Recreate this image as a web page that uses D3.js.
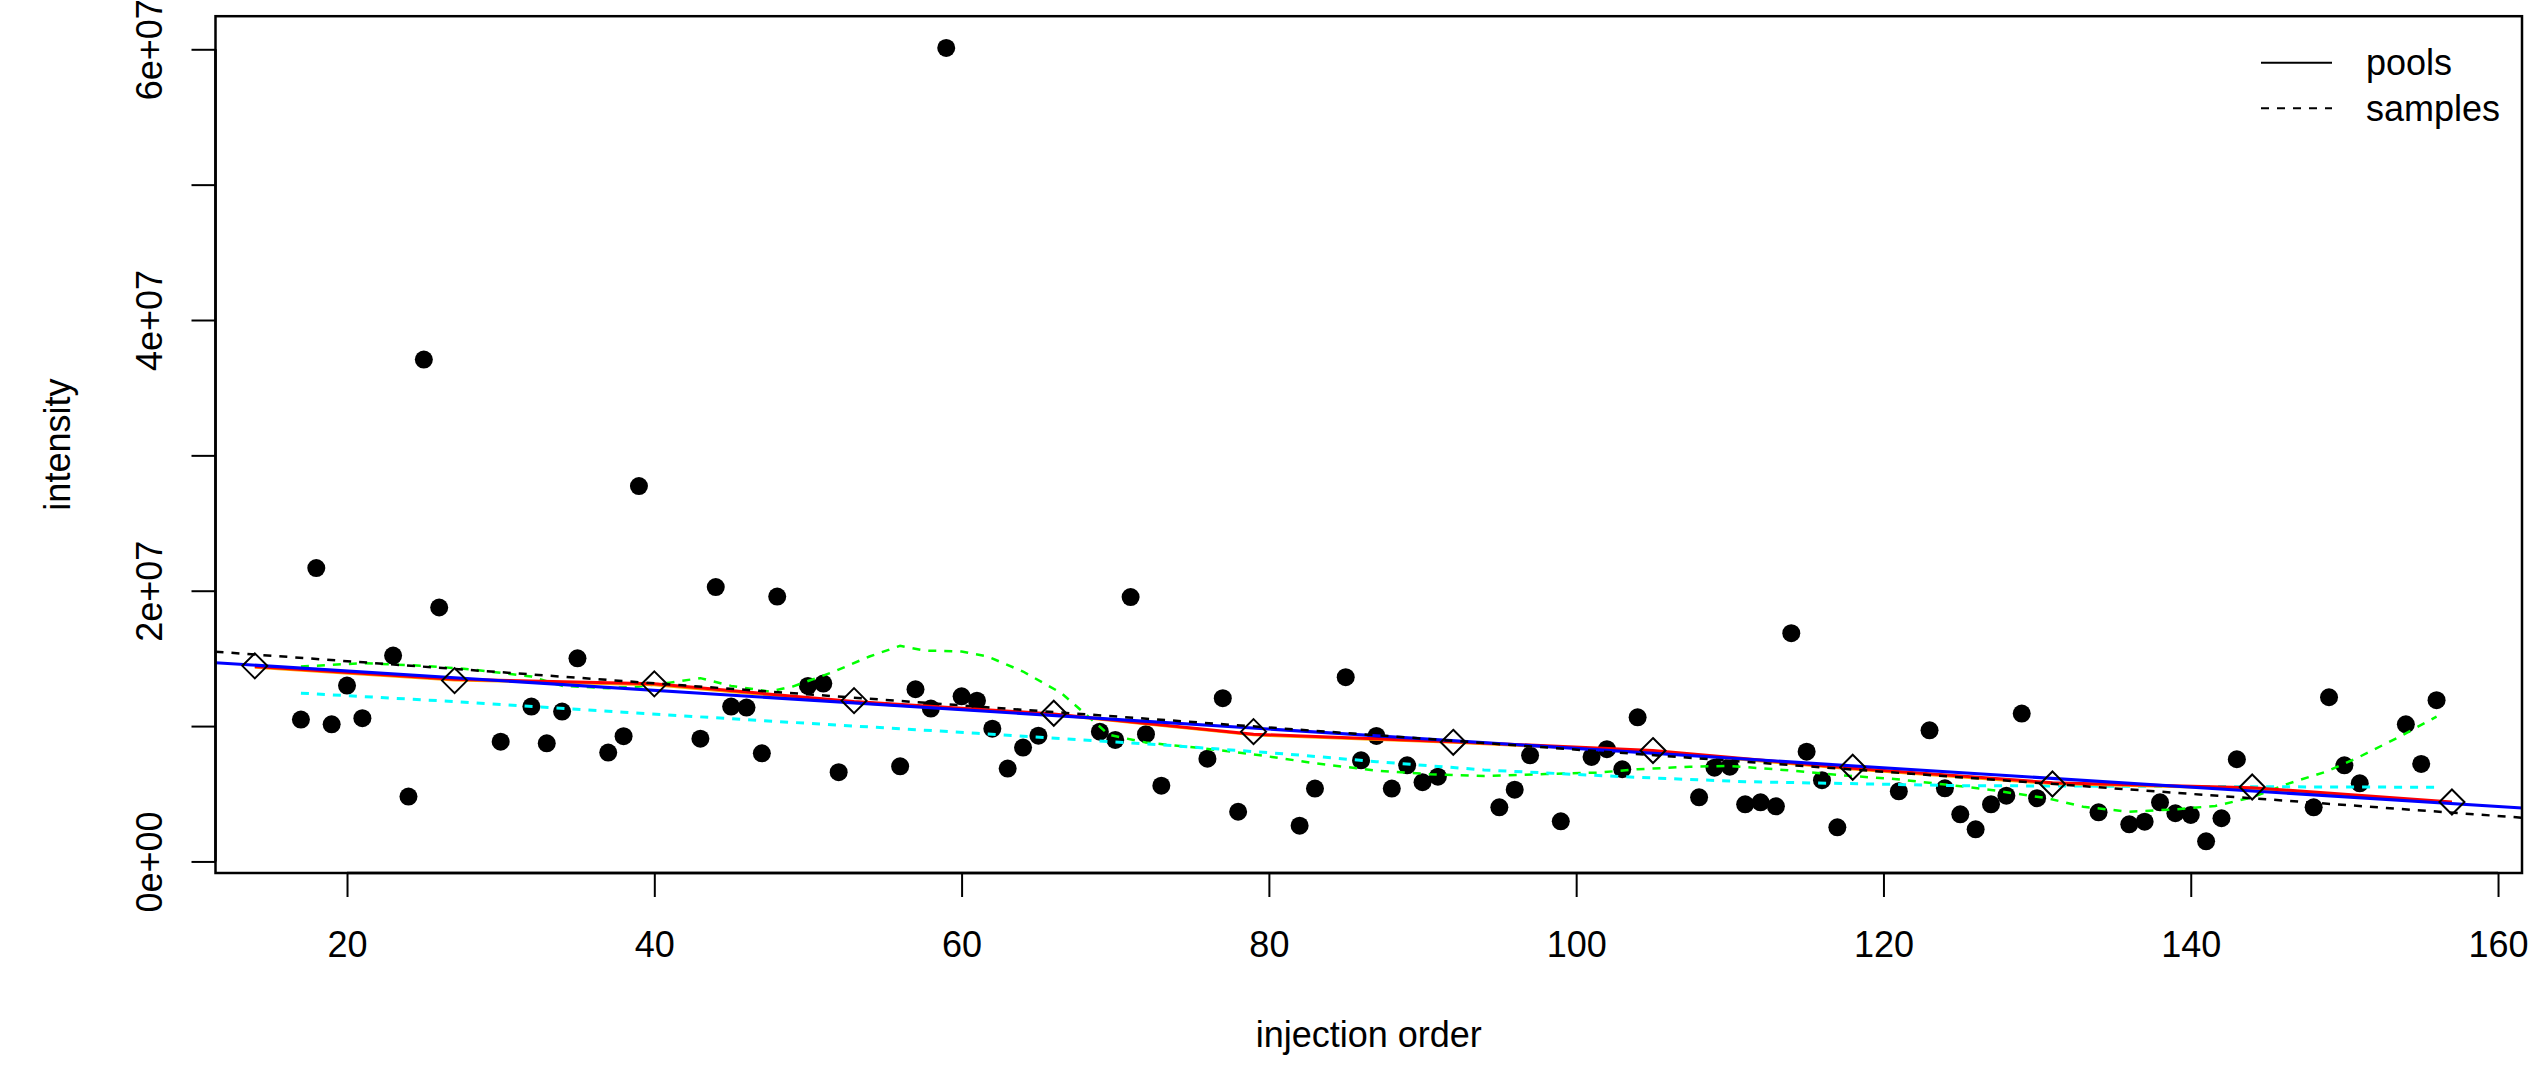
<!DOCTYPE html>
<html>
<head>
<meta charset="utf-8">
<script src="https://cdn.jsdelivr.net/npm/d3@7"></script>
<style>
html,body{margin:0;padding:0;background:#fff;}
svg{display:block;}
text{font-family:"Liberation Sans",Arial,Helvetica,sans-serif;fill:#000;}
</style>
</head>
<body>
<svg id="chart" width="2541" height="1065"></svg>
<script>
// ---- data (intensity in units of 1e6) ----
const sampleOrder = [17,18,19,20,21,23,24,25,26,30,32,33,34,35,37,38,39,43,44,45,46,47,48,50,51,52,56,57,58,59,60,61,62,63,64,65,69,70,71,72,73,76,77,78,82,83,85,86,87,88,89,90,91,95,96,97,99,101,102,103,104,108,109,110,111,112,113,114,115,116,117,121,123,124,125,126,127,128,129,130,134,136,137,138,139,140,141,142,143,148,149,150,151,154,155,156];
const sampleIntensity = [10.48,21.67,10.13,12.99,10.58,15.21,4.79,37.08,18.76,8.85,11.44,8.73,11.07,15.01,8.04,9.25,27.73,9.07,20.27,11.44,11.37,7.99,19.57,12.97,13.14,6.59,7.03,12.72,11.29,60.10,12.20,11.88,9.81,6.86,8.41,9.29,9.59,8.98,19.53,9.40,5.60,7.59,12.06,3.67,2.64,5.38,13.61,7.47,9.27,5.38,7.10,5.85,6.26,4.00,5.30,7.84,2.96,7.72,8.29,6.81,10.65,4.74,6.93,7.00,4.22,4.37,4.07,16.86,8.11,6.00,2.52,5.18,9.69,5.40,3.48,2.37,4.22,4.86,10.92,4.67,3.63,2.74,2.94,4.37,3.56,3.43,1.49,3.19,7.55,4.00,12.13,7.10,5.77,10.13,7.20,11.91];

const poolOrder = [14,27,40,53,66,79,92,105,118,131,144,157];
const poolIntensity = [14.45,13.36,13.12,11.88,10.95,9.59,8.80,8.19,6.96,5.72,5.50,4.39];

// smoothed pool trend (red) and underlying orange trend
const redTrend = [14.40,13.46,13.12,11.81,10.90,9.40,8.85,8.19,6.88,5.82,5.45,4.39];
const orangeTrend = [14.35,13.40,13.05,11.75,10.85,9.35,8.80,8.12,6.82,5.76,5.38,4.33];

// linear fits: [intercept, slope] per injection order
const poolFit = [15.50, -0.0715];     // blue solid
const sampleFit = [16.43, -0.0817];   // black dashed

// cyan dashed smooth of samples
const cyanX = [17,27,38,49,61,73,81,87,94,103,111,125,144,156];
const cyanY = [12.43,11.81,11.02,10.27,9.47,8.61,7.95,7.37,6.76,6.26,5.89,5.60,5.52,5.48];

// green dashed local smooth of samples
const greenX = [17,21,25,28,32,34,37,39,41,43,45,47.5,49,51.6,54,56,57.6,60,61.7,64,66.5,68,69.6,72,75.7,79.3,83,87,90.5,94,98,101.4,104,107.4,110,113.5,117,120.7,124.7,127,130.7,133,136,139,141.6,144,146.4,148.8,151,153.6,156];
const greenY = [14.40,14.65,14.45,14.20,13.66,12.97,12.80,12.92,13.21,13.54,12.97,12.55,12.92,13.98,15.14,15.93,15.58,15.51,15.14,14.03,12.43,10.95,9.35,8.78,8.36,7.87,7.25,6.71,6.44,6.31,6.46,6.56,6.81,7.00,7.05,6.76,6.39,6.09,5.60,5.28,4.66,4.04,3.67,3.85,4.10,4.74,5.77,6.63,7.74,9.22,10.70];

const xTicks = [20,40,60,80,100,120,140,160];
const yTickValues = [0,10,20,30,40,50,60];
const yTickLabels = ["0e+00","","2e+07","","4e+07","","6e+07"];

const legendLabels = ["pools","samples"];
const xTitle = "injection order";
const yTitle = "intensity";

// ---- layout ----
const L = 215.5, R = 2522, T = 16.2, B = 873;
const svg = d3.select("#chart");

const xmin = d3.min(sampleOrder), xmax = d3.max(sampleOrder);
const xr = xmax - xmin;
const x = d3.scaleLinear().domain([xmin - 0.04*xr, xmax + 0.04*xr]).range([L, R]);
const ymin = d3.min(sampleIntensity), ymax = d3.max(sampleIntensity);
const yr = ymax - ymin;
const y = d3.scaleLinear().domain([ymin - 0.04*yr, ymax + 0.04*yr]).range([B, T]);

const FS = 36;

// samples points
svg.append("g").selectAll("circle")
  .data(sampleOrder.map((o,i)=>[o,sampleIntensity[i]]))
  .join("circle")
  .attr("cx", d=>x(d[0])).attr("cy", d=>y(d[1])).attr("r", 9)
  .attr("fill","#000");

const line = d3.line().x(d=>x(d[0])).y(d=>y(d[1]));
const lines = svg.append("g").attr("fill","none");

lines.append("path")
  .attr("d", line(greenX.map((v,i)=>[v,greenY[i]])))
  .attr("stroke","#00ff00").attr("stroke-width",2.5).attr("stroke-dasharray","8,8");
lines.append("path")
  .attr("d", line(cyanX.map((v,i)=>[v,cyanY[i]])))
  .attr("stroke","#00ffff").attr("stroke-width",3).attr("stroke-dasharray","8,8");
lines.append("path")
  .attr("d", line(poolOrder.map((v,i)=>[v,orangeTrend[i]])))
  .attr("stroke","#ffa500").attr("stroke-width",3);
lines.append("path")
  .attr("d", line(poolOrder.map((v,i)=>[v,redTrend[i]])))
  .attr("stroke","#ff0000").attr("stroke-width",3);

const [x0, x1] = x.domain();
lines.append("path")
  .attr("d", line([[x0, poolFit[0]+poolFit[1]*x0],[x1, poolFit[0]+poolFit[1]*x1]]))
  .attr("stroke","#0000ff").attr("stroke-width",3);
lines.append("path")
  .attr("d", line([[x0, sampleFit[0]+sampleFit[1]*x0],[x1, sampleFit[0]+sampleFit[1]*x1]]))
  .attr("stroke","#000").attr("stroke-width",2.5).attr("stroke-dasharray","8,8");

// pools diamonds
const dsz = 12.5;
svg.append("g").selectAll("path")
  .data(poolOrder.map((o,i)=>[o,poolIntensity[i]]))
  .join("path")
  .attr("d", d=>{const cx=x(d[0]), cy=y(d[1]);
    return `M${cx},${cy-dsz}L${cx+dsz},${cy}L${cx},${cy+dsz}L${cx-dsz},${cy}Z`;})
  .attr("fill","none").attr("stroke","#000").attr("stroke-width",2);

// box
svg.append("rect").attr("x",L).attr("y",T).attr("width",R-L).attr("height",B-T)
  .attr("fill","none").attr("stroke","#000").attr("stroke-width",2.5);

// x axis
const xAxis = d3.axisBottom(x).tickValues(xTicks).tickSize(24).tickPadding(0).tickFormat(d3.format("d"));
const gx = svg.append("g").attr("transform",`translate(0,${B})`).call(xAxis);
gx.select(".domain").attr("d", `M${x(xTicks[0])},0H${x(xTicks[xTicks.length-1])}`).attr("stroke-width",2.5);
gx.selectAll(".tick line").attr("stroke-width",2);
gx.selectAll(".tick text").attr("font-size",FS).attr("font-family","Liberation Sans, Arial, sans-serif")
  .attr("dy",null).attr("y",84);

// y axis
const yAxis = d3.axisLeft(y).tickValues(yTickValues).tickSize(24).tickPadding(0)
  .tickFormat((d,i)=>yTickLabels[i]);
const gy = svg.append("g").attr("transform",`translate(${L},0)`).call(yAxis);
gy.select(".domain").attr("d", `M0,${y(yTickValues[0])}V${y(yTickValues[yTickValues.length-1])}`).attr("stroke-width",2.5);
gy.selectAll(".tick line").attr("stroke-width",2);
gy.selectAll(".tick text").attr("font-size",FS).attr("font-family","Liberation Sans, Arial, sans-serif")
  .attr("x",null).attr("dy",null)
  .attr("text-anchor","middle")
  .attr("transform","translate(-54,0) rotate(-90)");

// titles
svg.append("text").attr("x",(L+R)/2).attr("y",1047).attr("text-anchor","middle")
  .attr("font-size",FS).text(xTitle);
svg.append("text").attr("transform",`translate(70,${(T+B)/2}) rotate(-90)`)
  .attr("text-anchor","middle").attr("font-size",FS).text(yTitle);

// legend
const leg = svg.append("g");
const legY = [62.7, 108.3];
const legDash = [null, "8,8"];
legendLabels.forEach((lab,i)=>{
  leg.append("line").attr("x1",2261).attr("x2",2332).attr("y1",legY[i]).attr("y2",legY[i])
    .attr("stroke","#000").attr("stroke-width",2).attr("stroke-dasharray",legDash[i]);
  leg.append("text").attr("x",2366).attr("y",legY[i]+12.5).attr("font-size",FS).text(lab);
});
</script>
</body>
</html>
